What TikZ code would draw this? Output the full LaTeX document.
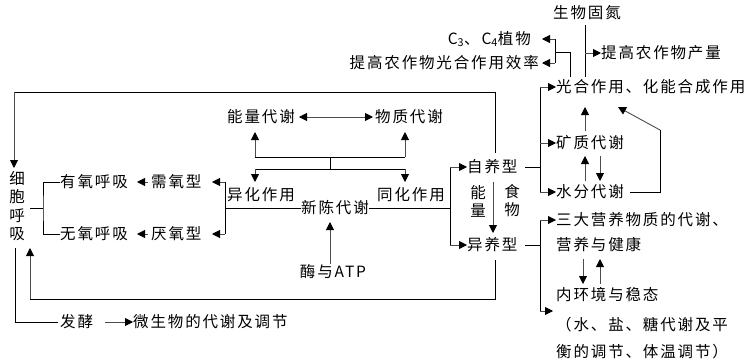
\documentclass[tikz,border=0pt]{standalone}
\usepackage{fontspec}
\setmainfont{Noto Sans CJK SC}[LetterSpace=12]
\usetikzlibrary{arrows.meta}
\begin{document}
\begin{tikzpicture}[x=1pt,y=-1pt,
  txt/.style={inner sep=0pt, font=\fontsize{15.5}{18.5}\selectfont},
  wtxt/.style={txt, anchor=west},
  etxt/.style={txt, anchor=east},
  ln/.style={line width=0.9pt, draw=black},
  arr/.style={line width=0.9pt, draw=black!70, -{Triangle[length=8pt,width=8pt,black]}},
  darr/.style={line width=0.9pt, draw=black!70, {Triangle[length=8pt,width=8pt,black]}-{Triangle[length=8pt,width=8pt,black]}}]
\fill[white] (0,0) rectangle (750,364);
\useasboundingbox (0,0) rectangle (750,364);
% ---- nodes ----
\node[txt, align=center] (xbhx) at (17,206) {细\\胞\\呼\\吸};
\node[wtxt] (yy) at (60,182) {有氧呼吸};
\node[wtxt] (wy) at (60,234) {无氧呼吸};
\node[wtxt] (xyx) at (151,182) {需氧型};
\node[wtxt] (yyx) at (151,234) {厌氧型};
\node[wtxt] (yh) at (227,195) {异化作用};
\node[wtxt] (th) at (377,195) {同化作用};
\node[txt] (xc) at (335,208) {新陈代谢};
\node[wtxt] (nl) at (227,117) {能量代谢};
\node[wtxt] (wz) at (375,117) {物质代谢};
\node[txt] (atp) at (333,272) {酶与ATP};
\node[wtxt] (zy) at (467,167) {自养型};
\node[wtxt] (yyang) at (467,245) {异养型};
\node[txt, align=center, font=\fontsize{15.5}{18}\selectfont] (nlv) at (478,201) {能\\量};
\node[txt, align=center, font=\fontsize{15.5}{18}\selectfont] (swv) at (512,201) {食\\物};
\node[txt] (swgd) at (587,13) {生物固氮};
\node[wtxt] (tg) at (601,53) {提高农作物产量};
\node[etxt] (c34) at (531,39) {C\textsubscript{3}、C\textsubscript{4}植物};
\node[etxt] (tgx) at (539,63) {提高农作物光合作用效率};
\node[wtxt] (gh) at (556,87) {光合作用、化能合成作用};
\node[wtxt] (kz) at (556,143) {矿质代谢};
\node[wtxt] (sf) at (556,192) {水分代谢};
\node[wtxt] (sd) at (556,220) {三大营养物质的代谢、};
\node[wtxt] (yyjk) at (556,245) {营养与健康};
\node[wtxt] (nhj) at (556,295) {内环境与稳态};
\node[wtxt] (p1) at (556,325) {（水、盐、糖代谢及平};
\node[wtxt] (p2) at (556,352) {衡的调节、体温调节）};
\node[wtxt] (fj) at (60,322) {发酵};
\node[wtxt] (wsw) at (133,322) {微生物的代谢及调节};
% ---- junction coordinates ----
\coordinate (tl) at (14,92);
\coordinate (tr) at (495,92);
\coordinate (ztop) at (495,153);
\coordinate (ybot) at (495,260);
\coordinate (br) at (495,299);
\coordinate (bl) at (30,299);
\coordinate (xbtop) at (14,168);
\coordinate (xbup) at (30,248);
% ---- connectors ----
% top loop and bottom loop
\draw[ln] (ztop) -- (tr) -- (tl);
\draw[arr] (tl) -- (xbtop);
\draw[ln] (ybot) -- (br) -- (bl);
\draw[arr] (bl) -- (xbup);
% cell respiration bracket
\draw[ln] (30,208) -- (43,208);
\draw[ln] (yy.west) -| (43,208) |- (wy.west);
\draw[arr] (148,182) -- (137,182);
\draw[arr] (148,234) -- (137,234);
% 异化 bracket
\draw[ln] (xc.west) -- (225,208);
\draw[ln] (225,182) -- (225,234);
\draw[arr] (225,182) -- (212,182);
\draw[arr] (225,234) -- (212,234);
% 同化 bracket
\draw[ln] (xc.east) -- (450,208);
\draw[ln] (450,167) -- (450,245);
\draw[arr] (450,167) -- (zy.west);
\draw[arr] (450,245) -- (yyang.west);
% energy / matter bracket
\draw[ln] (255,157) -- (405,157);
\draw[ln] (330,157) -- (330,169);
\draw[ln] (255,169) -- (405,169);
\draw[arr] (255,157) -- (255,132);
\draw[arr] (405,157) -- (405,132);
\draw[arr] (255,169) -- (255,182);
\draw[arr] (405,169) -- (405,182);
\draw[darr] (299,117) -- (373,117);
% enzyme
\draw[arr] (atp.north) ++(-3,-1) -- (330,222);
% 自养 -> 异养
\draw[arr] (493,182) -- (493,233);
% 自养 right bracket
\draw[ln] (525,167) -- (540,167);
\draw[ln] (540,87) -- (540,192);
\draw[arr] (540,87) -- (gh.west);
\draw[arr] (540,143) -- (kz.west);
\draw[arr] (540,192) -- (sf.west);
\draw[arr] (585,131) -- (585,107);
\draw[arr] (585,181) -- (585,156);
\draw[arr] (600,156) -- (600,181);
\draw[ln] (630,192) -- (660,192) -- (660,130);
\draw[arr] (660,130) -- (618,107);
% top right
\draw[ln] (570,77) -- (570,52) -- (555,52);
\draw[ln] (555,39) -- (555,63);
\draw[arr] (555,39) -- (542,39);
\draw[arr] (555,63) -- (542,63);
\draw[ln] (585,25) -- (585,77);
\draw[arr] (585,53) -- (tg.west);
% 异养 right bracket
\draw[ln] (525,245) -- (540,245);
\draw[ln] (540,220) -- (540,311);
\draw[arr] (540,220) -- (sd.west);
\draw[arr] (540,311) -- (553,311);
\draw[arr] (583,259) -- (583,284);
\draw[arr] (600,284) -- (600,259);
% fermentation
\draw[ln] (15,248) -- (15,322) -- (58,322);
\draw[arr] (105,322) -- (wsw.west);
\end{tikzpicture}
\end{document}
